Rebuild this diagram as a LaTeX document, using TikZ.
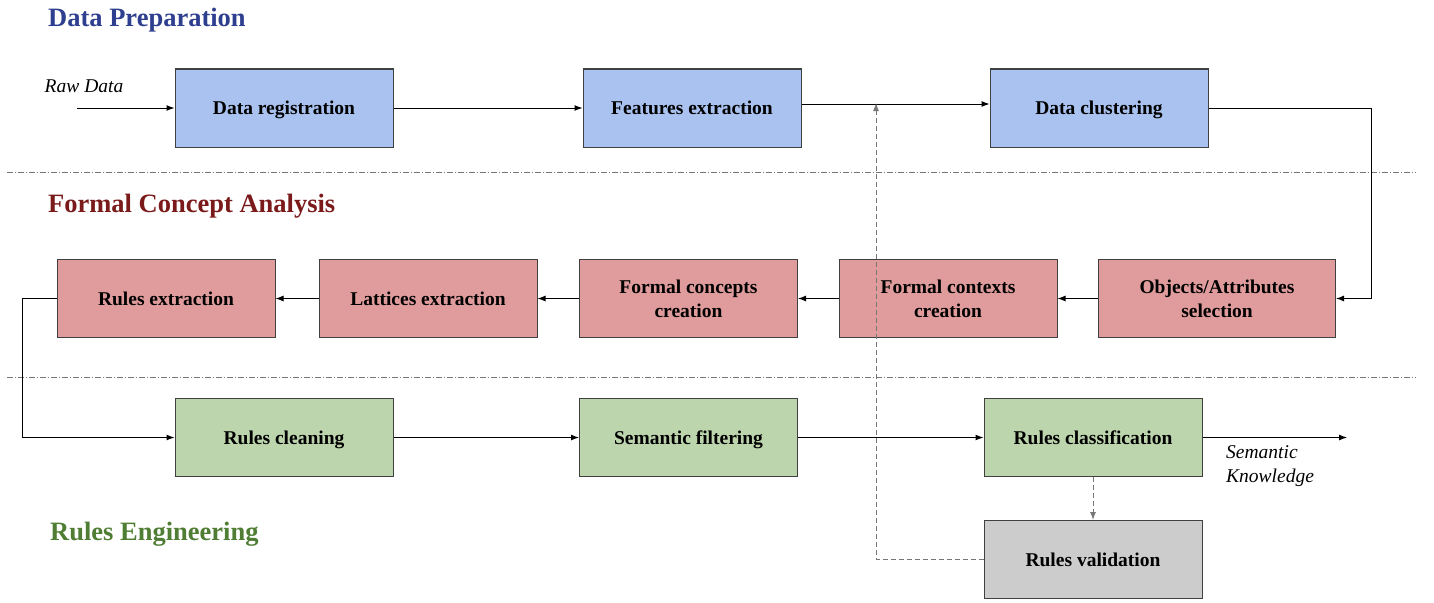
\documentclass[tikz,border=0pt]{standalone}
\usepackage{fontspec}
\setmainfont{Liberation Serif}
\usetikzlibrary{arrows.meta}
\definecolor{dpblue}{HTML}{A9C2EF}
\definecolor{fcared}{HTML}{E09C9C}
\definecolor{regreen}{HTML}{BCD5AD}
\definecolor{valgray}{HTML}{CCCCCC}
\definecolor{boxline}{HTML}{404040}
\definecolor{dptitle}{HTML}{2E3F8F}
\definecolor{fcatitle}{HTML}{7B1A1A}
\definecolor{retitle}{HTML}{4E7D33}
\definecolor{fbgray}{HTML}{777777}
\tikzset{
  blockbox/.style={draw=boxline, line width=1pt, minimum width=218pt, minimum height=78pt,
    inner sep=0pt, align=center, text height=17pt, text depth=4pt,
    font=\fontsize{19.5}{24}\selectfont\bfseries},
  twoline/.style={text height=41pt},
  dpbox/.style={blockbox, fill=dpblue},
  fcabox/.style={blockbox, fill=fcared},
  rebox/.style={blockbox, fill=regreen},
  valbox/.style={blockbox, fill=valgray},
  flow/.style={line width=1pt, -{Latex[length=8pt,width=6pt]}},
  feedback/.style={fbgray, line width=1pt, dash pattern=on 5pt off 3pt, -{Latex[length=8pt,width=6pt]}},
  sep/.style={fbgray, line width=1pt, dash pattern=on 6pt off 2pt on 1pt off 2pt},
  steptitle/.style={anchor=west, inner sep=0pt, font=\fontsize{26.5}{30}\selectfont\bfseries},
  flowlabel/.style={inner sep=0pt, align=left, font=\fontsize{19.5}{24}\selectfont\itshape}
}
\begin{document}
\begin{tikzpicture}[x=1pt,y=-1pt]
\useasboundingbox (0,0) rectangle (1434,602);
% section titles and separators
\node[steptitle, text=dptitle] (tdp) at (48,20) {Data Preparation};
\node[steptitle, text=fcatitle] (tfca) at (48,206) {Formal Concept Analysis};
\node[steptitle, text=retitle] (tre) at (50,534) {Rules Engineering};
\draw[sep] (7,172) -- (1416,172);
\draw[sep] (7,377) -- (1416,377);
% data preparation
\node[dpbox] (reg) at (284,108) {Data registration};
\node[dpbox] (feat) at (692,108) {Features extraction};
\node[dpbox] (clust) at (1099,108) {Data clustering};
% formal concept analysis
\node[fcabox, twoline, minimum width=237pt] (objsel) at (1217,298.5) {Objects/Attributes\\selection};
\node[fcabox, twoline] (ctx) at (948,298.5) {Formal contexts\\creation};
\node[fcabox, twoline] (concepts) at (688.5,298.5) {Formal concepts\\creation};
\node[fcabox] (lattices) at (428,298.5) {Lattices extraction};
\node[fcabox] (rulesx) at (166,298.5) {Rules extraction};
% rules engineering
\node[rebox] (cleaning) at (284,437.5) {Rules cleaning};
\node[rebox] (semfilt) at (688.5,437.5) {Semantic filtering};
\node[rebox] (classif) at (1093,437.5) {Rules classification};
\node[valbox] (valid) at (1093,559.5) {Rules validation};
% inputs and outputs
\coordinate (rawin) at (77,108);
\coordinate (semout) at (1347,437.5);
\coordinate (loopin) at (876,103);
\node[flowlabel] (rawlbl) at (84,86) {Raw Data};
\node[flowlabel, anchor=north west] (semlbl) at (1226,445) {Semantic\\Knowledge};
% connectors
\draw[flow] (rawin) -- (reg.west);
\draw[flow] (reg.east) -- (feat.west);
\draw[flow] ([yshift=4pt]feat.east) -- ([yshift=4pt]clust.west);
\draw[flow] (clust.east) -- (1371,108) |- (objsel.east);
\draw[flow] (objsel.west) -- (ctx.east);
\draw[flow] (ctx.west) -- (concepts.east);
\draw[flow] (concepts.west) -- (lattices.east);
\draw[flow] (lattices.west) -- (rulesx.east);
\draw[flow] (rulesx.west) -- (22,298.5) |- (cleaning.west);
\draw[flow] (cleaning.east) -- (semfilt.west);
\draw[flow] (semfilt.east) -- (classif.west);
\draw[flow] (classif.east) -- (semout);
% validation loop
\draw[feedback] (classif.south) -- (valid.north);
\draw[feedback] (valid.west) -| (loopin);
\end{tikzpicture}
\end{document}
